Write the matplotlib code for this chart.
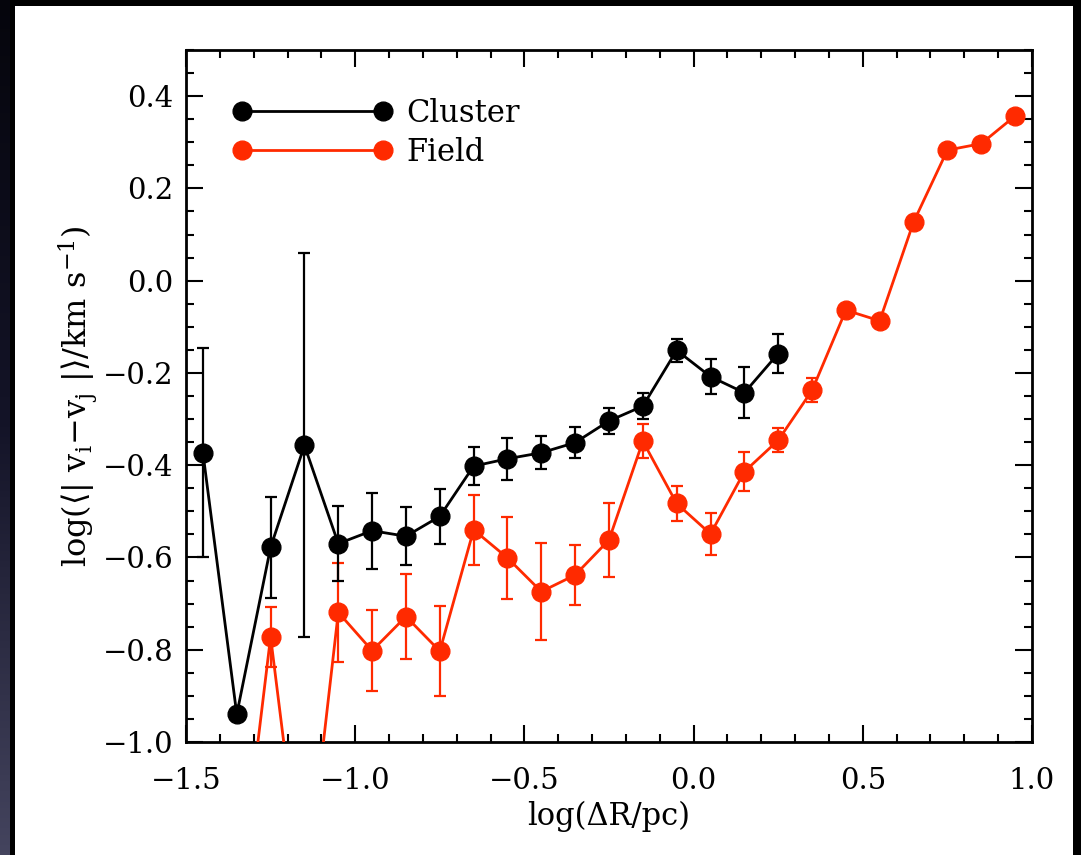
import matplotlib
matplotlib.use("Agg")
import matplotlib.pyplot as plt
import numpy as np
from matplotlib.patches import Rectangle
from matplotlib.ticker import MultipleLocator

# data
cluster_x = [-1.45, -1.35, -1.25, -1.15, -1.05, -0.95, -0.85, -0.75, -0.65,
             -0.55, -0.45, -0.35, -0.25, -0.15, -0.05, 0.05, 0.15, 0.25]
cluster_y = [-0.373, -0.940, -0.578, -0.357, -0.570, -0.542, -0.554, -0.511, -0.402,
             -0.386, -0.373, -0.351, -0.304, -0.272, -0.151, -0.208, -0.243, -0.158]
cluster_err = [0.227, 0.01, 0.11, 0.416, 0.082, 0.082, 0.063, 0.06, 0.042,
               0.045, 0.036, 0.034, 0.029, 0.028, 0.025, 0.038, 0.055, 0.043]

field_x = [-1.35, -1.25, -1.15, -1.05, -0.95, -0.85, -0.75, -0.65, -0.55, -0.45,
           -0.35, -0.25, -0.15, -0.05, 0.05, 0.15, 0.25, 0.35, 0.45, 0.55,
           0.65, 0.75, 0.85, 0.95]
field_y = [-1.38, -0.772, -1.36, -0.719, -0.802, -0.728, -0.803, -0.540, -0.601, -0.674,
           -0.638, -0.562, -0.348, -0.483, -0.549, -0.414, -0.346, -0.238, -0.064, -0.087,
           0.127, 0.283, 0.297, 0.357]
field_err = [0.1, 0.065, 0.1, 0.107, 0.088, 0.092, 0.097, 0.076, 0.089, 0.105,
             0.064, 0.081, 0.037, 0.038, 0.045, 0.042, 0.026, 0.026, 0.01, 0.01,
             0.01, 0.01, 0.01, 0.01]

red = '#ff2a00'

plt.rcParams['font.family'] = ['DejaVu Serif']
plt.rcParams['mathtext.fontset'] = 'dejavuserif'

W, H = 1081, 855
fig = plt.figure(figsize=(W / 100, H / 100), dpi=100, facecolor='black')

# white page on the dark slide
fig.patches.append(Rectangle((15 / W, 0), (1073 - 15) / W, 1 - 6 / H,
                             transform=fig.transFigure, facecolor='white',
                             edgecolor='none', zorder=-5))
# bluish strip on the left edge
strip = fig.add_axes([0, 0, 10 / W, 1])
grad = np.linspace(0, 1, 256).reshape(-1, 1)
strip.imshow(grad, aspect='auto', cmap=matplotlib.colors.LinearSegmentedColormap.from_list(
    'bg', ['#44445e', '#141428', '#05050c']), origin='lower', extent=[0, 1, 0, 1])
strip.axis('off')

ax = fig.add_axes([186 / W, 1 - 742 / H, (1032 - 186) / W, (742 - 50) / H])
ax.set_facecolor('white')

# field
ax.errorbar(field_x, field_y, yerr=field_err, fmt='none', ecolor=red,
            elinewidth=1.6, capsize=4.3, capthick=1.6, zorder=2)
lf, = ax.plot(field_x, field_y, '-o', color=red, lw=2.0, ms=13.5, zorder=3)

# cluster
ax.errorbar(cluster_x, cluster_y, yerr=cluster_err, fmt='none', ecolor='black',
            elinewidth=1.6, capsize=4.3, capthick=1.6, zorder=4)
lc, = ax.plot(cluster_x, cluster_y, '-o', color='black', lw=2.0, ms=13.5, zorder=5)

ax.set_xlim(-1.5, 1.0)
ax.set_ylim(-1.0, 0.5)
ax.xaxis.set_major_locator(MultipleLocator(0.5))
ax.xaxis.set_minor_locator(MultipleLocator(0.1))
ax.yaxis.set_major_locator(MultipleLocator(0.2))
ax.yaxis.set_minor_locator(MultipleLocator(0.05))
ax.set_yticks([-1.0, -0.8, -0.6, -0.4, -0.2, 0.0, 0.2, 0.4])
ax.tick_params(which='both', direction='in', top=True, right=True, width=1.5,
               labelsize=21)
ax.tick_params(which='major', length=12)
ax.tick_params(which='minor', length=6)
ax.tick_params(axis='x', which='major', pad=18)
ax.tick_params(axis='y', which='major', pad=9)
for s in ax.spines.values():
    s.set_linewidth(2)

ax.set_xlabel('log(ΔR/pc)', fontsize=22, labelpad=4)
ax.set_ylabel(r'log$(\langle$| v$_{\rm i}$$-$v$_{\rm j}$ |$\rangle$/km s$^{-1}$)',
              fontsize=23, labelpad=2)

ax.legend([lc, lf], ['Cluster', 'Field'], loc='upper left',
          bbox_to_anchor=(0.0558, 0.9305), frameon=False, fontsize=22,
          numpoints=2, handlelength=5.2, handletextpad=0.47, borderpad=0,
          borderaxespad=0, labelspacing=0.25)

fig.savefig('out.png', dpi=100, facecolor=fig.get_facecolor())
